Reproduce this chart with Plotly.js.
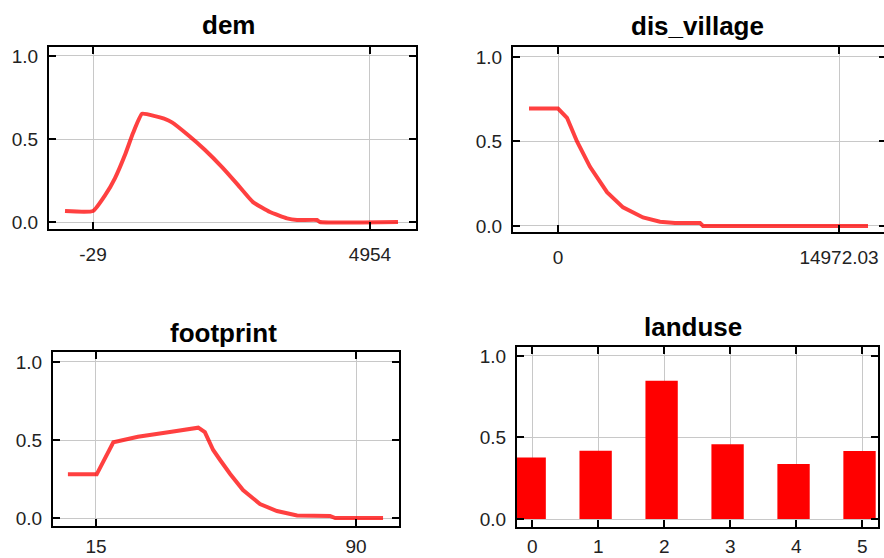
<!DOCTYPE html>
<html>
<head>
<meta charset="utf-8">
<script src="https://cdn.plot.ly/plotly-3.0.1.min.js"></script>
<style>
html,body{margin:0;padding:0;overflow:hidden;background:#fff;}
#chart{width:888px;height:558px;}
</style>
</head>
<body>
<div id="chart"></div>
<script>
// ---- data ----
var panelTitles = ["dem", "dis_village", "footprint", "landuse"];

var demX = [-533, -29, 187, 367, 547, 691, 853, 1086, 1250, 1392, 1680, 1986, 2292, 2562, 2849, 3155, 3461, 3641, 4001, 4055, 5458];
var demY = [0.066, 0.066, 0.160, 0.265, 0.405, 0.536, 0.652, 0.638, 0.622, 0.600, 0.524, 0.434, 0.331, 0.230, 0.120, 0.060, 0.022, 0.012, 0.012, 0.0, 0.0];
var demTickVals = [-29, 4954];
var demTickText = ["-29", "4954"];

var villX = [-1545, 0, 480, 1012, 1705, 2611, 3463, 4529, 5435, 6234, 7566, 7726, 16517];
var villY = [0.695, 0.695, 0.640, 0.500, 0.350, 0.200, 0.110, 0.050, 0.025, 0.018, 0.018, 0.0, 0.0];
var villTickVals = [0, 14972.03];
var villTickText = ["0", "14972.03"];

var footX = [6.9, 15.2, 20, 27.1, 36.8, 43.6, 44.5, 46.4, 48.8, 50.8, 53.7, 57.4, 62.3, 67.2, 73.0, 82.5, 84.0, 97.8];
var footY = [0.280, 0.280, 0.485, 0.521, 0.553, 0.579, 0.579, 0.551, 0.436, 0.372, 0.282, 0.179, 0.090, 0.045, 0.016, 0.013, 0.0, 0.0];
var footTickVals = [15, 90];
var footTickText = ["15", "90"];

var landCats = [0, 1, 2, 3, 4, 5];
var landVals = [0.378, 0.419, 0.848, 0.458, 0.337, 0.417];

// ---- layout helpers ----
var W = 888, H = 558;
function dx(a, b) { return [a / W, b / W]; }
function dy(top, bottom) { return [1 - bottom / H, 1 - top / H]; }

var lineStyle = {color: 'rgba(255,0,0,0.75)', width: 4, shape: 'spline', smoothing: 0.4};
var tickFont = {family: 'Liberation Sans, Arial, sans-serif', size: 19, color: '#222'};

function xAxis(domain, range, anchor, tv, tt, standoff) {
  return {domain: domain, range: range, anchor: anchor, tickmode: 'array', tickvals: tv, ticktext: tt,
    showgrid: true, gridcolor: '#c8c8c8', gridwidth: 1, zeroline: false,
    showline: true, linecolor: '#000', linewidth: 2, mirror: 'ticks',
    ticks: 'inside', ticklen: 7, tickwidth: 2, tickcolor: '#000',
    tickfont: tickFont, ticklabelstandoff: standoff, fixedrange: true};
}
function yAxis(domain, range, anchor) {
  return {domain: domain, range: range, anchor: anchor, tickmode: 'array', tickvals: [0, 0.5, 1],
    ticktext: ['0.0', '0.5', '1.0'],
    showgrid: true, gridcolor: '#c8c8c8', gridwidth: 1, zeroline: false,
    showline: true, linecolor: '#000', linewidth: 2, mirror: 'ticks',
    ticks: 'inside', ticklen: 7, tickwidth: 2, tickcolor: '#000',
    tickfont: tickFont, ticklabelstandoff: 5, fixedrange: true};
}

var traces = [
  {type: 'scatter', mode: 'lines', x: demX, y: demY, xaxis: 'x', yaxis: 'y', line: lineStyle, hoverinfo: 'skip'},
  {type: 'scatter', mode: 'lines', x: villX, y: villY, xaxis: 'x2', yaxis: 'y2', line: {color: 'rgba(255,0,0,0.75)', width: 4}, hoverinfo: 'skip'},
  {type: 'scatter', mode: 'lines', x: footX, y: footY, xaxis: 'x3', yaxis: 'y3', line: {color: 'rgba(255,0,0,0.75)', width: 4}, hoverinfo: 'skip'},
  {type: 'bar', x: landCats, y: landVals, xaxis: 'x4', yaxis: 'y4', width: 0.49, offset: -0.285,
   marker: {color: '#ff0000', line: {width: 0}}, hoverinfo: 'skip'}
];

var titleFont = {family: 'Liberation Sans, Arial, sans-serif', size: 26, color: '#000', weight: 'bold'};
function titleAnn(text, cx, cy) {
  return {text: '<b>' + text + '</b>', xref: 'paper', yref: 'paper', x: cx / W, y: 1 - cy / H,
    xanchor: 'center', yanchor: 'middle', showarrow: false, font: titleFont};
}

var layout = {
  width: W, height: H, margin: {l: 0, r: 0, t: 0, b: 0},
  paper_bgcolor: '#fff', plot_bgcolor: '#fff', showlegend: false,
  xaxis: xAxis(dx(49, 416), [-821, 5782], 'y', demTickVals, demTickText, 7),
  yaxis: yAxis(dy(47, 229), [-0.042, 1.054], 'x'),
  xaxis2: xAxis(dx(513, 886), [-2398, 17476], 'y2', villTickVals, villTickText, 7),
  yaxis2: yAxis(dy(47, 232), [-0.036, 1.059], 'x2'),
  xaxis3: xAxis(dx(53, 399), [2.6, 102.4], 'y3', footTickVals, footTickText, 2),
  yaxis3: yAxis(dy(352, 526), [-0.051, 1.064], 'x3'),
  xaxis4: xAxis(dx(517, 878), [-0.232, 5.24], 'y4', landCats, landCats.map(String), 1),
  yaxis4: yAxis(dy(347, 527), [-0.049, 1.055], 'x4'),
  annotations: [
    titleAnn(panelTitles[0], 229, 25),
    titleAnn(panelTitles[1], 697, 26),
    titleAnn(panelTitles[2], 223, 333),
    titleAnn(panelTitles[3], 693, 327)
  ]
};

Plotly.newPlot('chart', traces, layout, {staticPlot: true, displayModeBar: false});
</script>
</body>
</html>
